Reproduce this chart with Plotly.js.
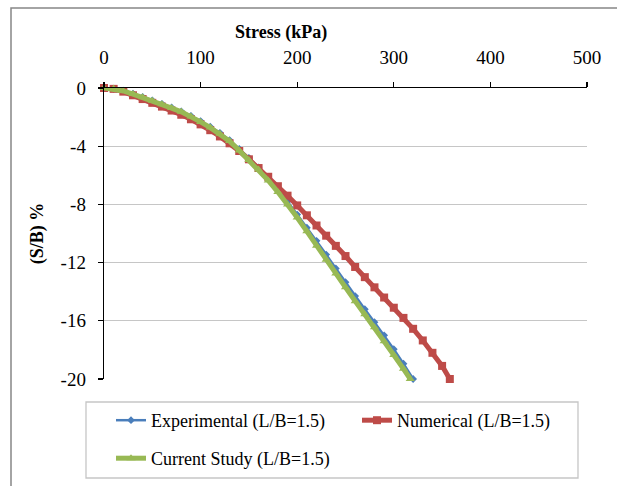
<!DOCTYPE html>
<html>
<head>
<meta charset="utf-8">
<script src="https://cdn.plot.ly/plotly-3.0.1.min.js"></script>
<style>
  html, body { margin: 0; padding: 0; background: #ffffff; }
  #chart { width: 617px; height: 486px; }
</style>
</head>
<body>
<div id="chart"></div>
<script>
// Experimental load-settlement curve (L/B = 1.5)
const stressExp = [0, 10, 20, 30, 40, 50, 60, 70, 80, 90, 100, 110, 120, 130, 140, 150, 160,
  170, 180, 190, 200, 210, 220, 230, 240, 250, 260, 270, 280, 290, 300, 310, 320];
const settleExp = [0, -0.05, -0.18, -0.39, -0.62, -0.85, -1.09, -1.34, -1.6, -1.91, -2.27, -2.66,
  -3.08, -3.58, -4.18, -4.8, -5.45, -6.17, -6.95, -7.8, -8.7, -9.6, -10.5, -11.45, -12.4,
  -13.35, -14.3, -15.2, -16.1, -17.0, -17.95, -18.95, -20.0];

// Numerical model curve (L/B = 1.5)
const stressNum = [0, 10, 20, 30, 40, 50, 60, 70, 80, 90, 100, 110, 120, 130, 140, 150, 160,
  170, 180, 190, 200, 210, 220, 230, 240, 250, 260, 270, 280, 290, 300, 310, 320, 330, 340,
  350, 358];
const settleNum = [0, -0.06, -0.25, -0.5, -0.76, -1.02, -1.28, -1.55, -1.84, -2.15, -2.5, -2.9,
  -3.33, -3.8, -4.33, -4.9, -5.5, -6.1, -6.75, -7.4, -8.07, -8.75, -9.45, -10.15, -10.85,
  -11.55, -12.3, -13.0, -13.7, -14.4, -15.1, -15.8, -16.55, -17.35, -18.2, -19.1, -20.0];

// Current study curve (L/B = 1.5)
const stressCur = [0, 10, 20, 30, 40, 50, 60, 70, 80, 90, 100, 110, 120, 130, 140, 150, 160,
  170, 180, 190, 200, 210, 220, 230, 240, 250, 260, 270, 280, 290, 300, 310, 317];
const settleCur = [0, -0.06, -0.2, -0.42, -0.64, -0.88, -1.12, -1.38, -1.64, -1.96, -2.33, -2.72,
  -3.15, -3.65, -4.3, -4.95, -5.6, -6.35, -7.15, -8.0, -8.9, -9.85, -10.85, -11.8, -12.75,
  -13.7, -14.65, -15.55, -16.45, -17.4, -18.35, -19.3, -20.0];

const seriesNames = ['Experimental (L/B=1.5)', 'Numerical (L/B=1.5)', 'Current Study (L/B=1.5)'];
const xTicks = [0, 100, 200, 300, 400, 500];
const yTicks = [0, -4, -8, -12, -16, -20];

const serif = 'Liberation Serif, Times New Roman, serif';

const traces = [
  {
    x: stressExp, y: settleExp, name: seriesNames[0], type: 'scatter', mode: 'lines+markers',
    line: { color: '#4A7EBB', width: 2.5 },
    marker: { symbol: 'diamond', size: 6, color: '#4A7EBB' },
    cliponaxis: false, legend: 'legend'
  },
  {
    x: stressNum, y: settleNum, name: seriesNames[1], type: 'scatter', mode: 'lines+markers',
    line: { color: '#BE4B48', width: 5 },
    marker: { symbol: 'square', size: 8, color: '#BE4B48' },
    cliponaxis: false, legend: 'legend2'
  },
  {
    x: stressCur, y: settleCur, name: seriesNames[2], type: 'scatter', mode: 'lines+markers',
    line: { color: '#98B954', width: 5 },
    marker: { symbol: 'triangle-up', size: 8, color: '#98B954' },
    cliponaxis: false, legend: 'legend3'
  }
];

// plot area in pixels: x 104..587, y 88..379
const L = 104, R = 587, T = 88, B = 379;
const W = 617, H = 486;
const px = v => (v - L) / (R - L);
const py = v => (B - v) / (B - T);

function legendAt(left, top) {
  return {
    orientation: 'h',
    xref: 'container', yref: 'container',
    x: left / W, y: 1 - top / H,
    xanchor: 'left', yanchor: 'top',
    bgcolor: 'rgba(0,0,0,0)', borderwidth: 0,
    font: { family: serif, size: 18, color: '#000000' }
  };
}

const layout = {
  width: W, height: H,
  margin: { l: L, r: W - R, t: T, b: H - B, pad: 0 },
  paper_bgcolor: '#ffffff',
  plot_bgcolor: '#ffffff',
  font: { family: serif, size: 18, color: '#000000' },
  showlegend: true,
  xaxis: {
    side: 'top',
    range: [0, 500],
    tickvals: xTicks,
    ticktext: xTicks.map(String),
    showline: true, linecolor: '#000000', linewidth: 1.3,
    ticks: 'outside', ticklen: 5, tickwidth: 1.3, tickcolor: '#000000',
    ticklabelstandoff: 10,
    showgrid: false, zeroline: false,
    tickfont: { family: serif, size: 19, color: '#000000' }
  },
  yaxis: {
    range: [-20, 0],
    tickvals: yTicks,
    ticktext: yTicks.map(String),
    showline: true, linecolor: '#000000', linewidth: 1.3,
    ticks: 'outside', ticklen: 5, tickwidth: 1.3, tickcolor: '#000000',
    ticklabelstandoff: 8,
    showgrid: true, gridcolor: '#C6C6C6', gridwidth: 1.3,
    zeroline: false,
    tickfont: { family: serif, size: 19, color: '#000000' },
    title: { text: '<b>(S/B) %</b>', standoff: 12, font: { family: serif, size: 18, color: '#000000' } }
  },
  legend: legendAt(111, 402),
  legend2: legendAt(357, 402),
  legend3: legendAt(111, 440),
  annotations: [
    {
      text: '<b>Stress (kPa)</b>', xref: 'paper', yref: 'paper',
      x: px(281), y: py(32), xanchor: 'center', yanchor: 'middle',
      showarrow: false, font: { family: serif, size: 18, color: '#000000' }
    }
  ],
  shapes: [
    // chart frame
    {
      type: 'path', xref: 'paper', yref: 'paper',
      path: 'M ' + px(11) + ' ' + py(500) + ' L ' + px(11) + ' ' + py(8) + ' L ' + px(640) + ' ' + py(8),
      line: { color: '#868686', width: 1.5 }, layer: 'below'
    },
    // legend frame
    {
      type: 'rect', xref: 'paper', yref: 'paper',
      x0: px(86), x1: px(578), y0: py(478), y1: py(402),
      line: { color: '#C6C6C6', width: 1.3 }, fillcolor: 'rgba(0,0,0,0)', layer: 'below'
    }
  ]
};

Plotly.newPlot('chart', traces, layout, { displayModeBar: false, staticPlot: true });
</script>
</body>
</html>
